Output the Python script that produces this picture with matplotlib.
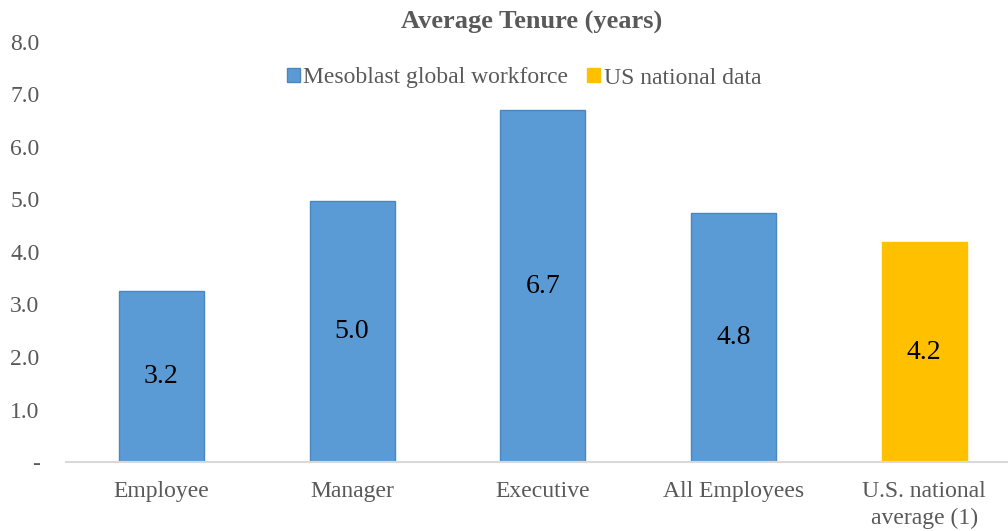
import matplotlib.pyplot as plt
from matplotlib.patches import Patch

plt.rcParams['font.family'] = ['Liberation Serif', 'DejaVu Serif']

categories = ['Employee', 'Manager', 'Executive', 'All Employees', 'U.S. national\naverage (1)']
values = [3.26, 4.97, 6.70, 4.74, 4.19]
labels = ['3.2', '5.0', '6.7', '4.8', '4.2']
yticks = [0, 1, 2, 3, 4, 5, 6, 7, 8]
ytick_labels = ['-', '1.0', '2.0', '3.0', '4.0', '5.0', '6.0', '7.0', '8.0']

blue = '#5B9BD5'
yellow = '#FFC000'
colors = [blue, blue, blue, blue, yellow]
edges = ['#4A86C0', '#4A86C0', '#4A86C0', '#4A86C0', yellow]

fig = plt.figure(figsize=(10.08, 5.31), dpi=100)
ax = fig.add_axes([66 / 1008, 69 / 531, 942 / 1008, 420 / 531])

x = range(len(categories))
bars = ax.bar(x, values, width=0.446, color=colors, edgecolor=edges, linewidth=1, zorder=2)
for b, lab in zip(bars, labels):
    ax.text(b.get_x() + b.get_width() / 2, b.get_height() / 2, lab,
            ha='center', va='center', fontsize=20, color='black')

ax.set_xlim(-0.5, 4.44)
ax.set_ylim(0, 8)
ax.set_yticks(yticks)
ax.set_yticklabels(ytick_labels)
ax.set_xticks(list(x))
ax.set_xticklabels(categories, linespacing=1.35)
ax.tick_params(axis='both', length=0, labelsize=17, colors='#595959')
ax.tick_params(axis='y', pad=19)
ax.tick_params(axis='x', pad=14)
for lab in ax.get_yticklabels():
    lab.set_horizontalalignment('right')

for s in ['top', 'right', 'left']:
    ax.spines[s].set_visible(False)
ax.spines['bottom'].set_color('#D9D9D9')
ax.spines['bottom'].set_linewidth(1.5)

fig.text(532 / 1008, 1 - 22 / 531, 'Average Tenure (years)', ha='center', va='center',
         fontsize=19, fontweight='bold', color='#595959')

handles = [Patch(facecolor=blue, edgecolor='#4A86C0', label='Mesoblast global workforce'),
           Patch(facecolor=yellow, edgecolor=yellow, label='US national data')]
fig.legend(handles=handles, loc='center', bbox_to_anchor=(524 / 1008, 1 - 78 / 531), ncol=2,
           frameon=False, fontsize=17, handlelength=0.55, handleheight=0.55,
           handletextpad=0.15, columnspacing=0.8, labelcolor='#595959')

fig.savefig('out.png', dpi=100)
